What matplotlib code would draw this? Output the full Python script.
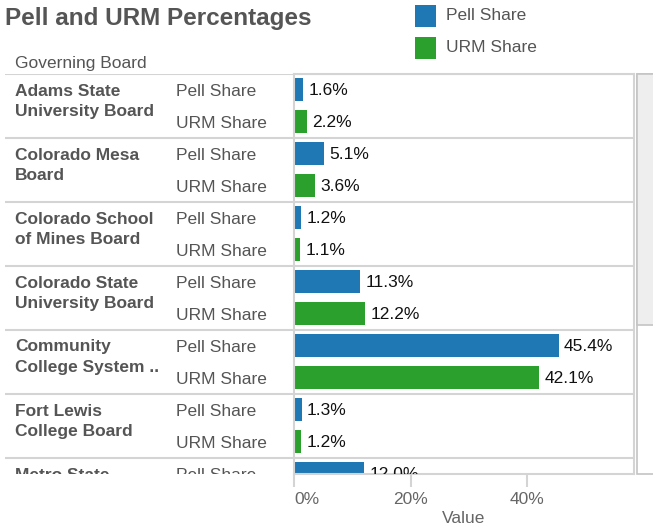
import matplotlib
matplotlib.use("Agg")
import matplotlib.pyplot as plt
from matplotlib.patches import Rectangle
from matplotlib.ticker import FuncFormatter

# ---------------- data ----------------
boards = [
    ("Adams State", "University Board"),
    ("Colorado Mesa", "Board"),
    ("Colorado School", "of Mines Board"),
    ("Colorado State", "University Board"),
    ("Community", "College System .."),
    ("Fort Lewis", "College Board"),
    ("Metro State", "University Board"),
]
measures = ["Pell Share", "URM Share"]
pell_share = [1.6, 5.1, 1.2, 11.3, 45.4, 1.3, 12.0]
urm_share = [2.2, 3.6, 1.1, 12.2, 42.1, 1.2]
x_ticks = [0, 20, 40]

# ---------------- style ----------------
W, H = 653, 528
FONT = "Liberation Sans"
FS = 12.5
GRAY_TXT = "#555555"
AXIS_TXT = "#666666"
LINE = "#d4d4d4"
BLUE = "#1f77b4"
GREEN = "#2ca02c"

plt.rcParams["font.family"] = [FONT, "DejaVu Sans"]

fig = plt.figure(figsize=(W / 100, H / 100), dpi=100)

def fx(px):
    return px / W

def fy(py):
    return 1 - py / H

pane_top, pane_bot = 73.5, 474.0
row_px = 32.0
n_rows_visible = (pane_bot - pane_top) / row_px
ax_left_px, ax_right_px = 294.0, 634.0

# bar axes
ax = fig.add_axes([fx(ax_left_px), fy(pane_bot), fx(ax_right_px - ax_left_px),
                   (pane_bot - pane_top) / H])
# label axes
lab = fig.add_axes([fx(5), fy(pane_bot), fx(ax_left_px - 5), (pane_bot - pane_top) / H])

xmax = (ax_right_px - ax_left_px) / 5.83
ax.set_xlim(0, xmax)
ax.set_ylim(n_rows_visible, 0)
lab.set_xlim(5, ax_left_px)
lab.set_ylim(n_rows_visible, 0)
lab.axis("off")

bar_h = 0.74
for i in range(len(boards)):
    series = [(pell_share, BLUE), (urm_share, GREEN)]
    for j, (vals, col) in enumerate(series):
        if i >= len(vals):
            continue
        yc = 2 * i + j + 0.5
        v = vals[i]
        ax.barh(yc, v, height=bar_h, color=col, left=0, zorder=2)
        ax.annotate(f"{v:.1f}%", xy=(v, yc), xytext=(3.8, -0.5), textcoords="offset points",
                    ha="left", va="center", fontsize=FS, color="#111111",
                    annotation_clip=False, clip_on=True, zorder=3)

# separators
for g in range(len(boards) + 1):
    y = 2 * g
    if y < n_rows_visible:
        ax.axhline(y, color=LINE, lw=1.5, zorder=1)
        lab.axhline(y, color=LINE, lw=1.5, zorder=1)

# labels
for i, (l1, l2) in enumerate(boards):
    top = 2 * i
    lab.text(15, top + 22 / row_px, l1, fontsize=FS, fontweight="bold", color=GRAY_TXT,
             va="baseline", ha="left", clip_on=True)
    lab.text(15, top + 42.5 / row_px, l2, fontsize=FS, fontweight="bold", color=GRAY_TXT,
             va="baseline", ha="left", clip_on=True)
    for j, m in enumerate(measures):
        lab.text(175.5, top + j + 0.5 + 1.5 / row_px, m, fontsize=FS, color=GRAY_TXT,
                 va="center", ha="left", clip_on=True)

# spines
for s in ax.spines.values():
    s.set_color(LINE)
    s.set_linewidth(1.5)

ax.set_yticks([])
ax.set_xticks(x_ticks)
ax.xaxis.set_major_formatter(FuncFormatter(lambda v, p: f"{v:.0f}%"))
ax.tick_params(axis="x", length=9, width=1.5, color=LINE, labelsize=FS,
               labelcolor=AXIS_TXT, pad=4)
ax.set_xlabel("Value", fontsize=FS, color=AXIS_TXT, labelpad=3)
fig.canvas.draw()
tl = ax.get_xticklabels()
tl[0].set_ha("left")

# scrollbar
track = Rectangle((fx(637), fy(pane_bot)), fx(653 - 637) + 0.01, (pane_bot - pane_top) / H,
                  transform=fig.transFigure, facecolor="white", edgecolor="#c4c4c4", lw=1.2)
fig.patches.append(track)
thumb = Rectangle((fx(637), fy(325)), fx(653 - 637) + 0.01, (325 - pane_top) / H,
                  transform=fig.transFigure, facecolor="#eeeeee", edgecolor="#c4c4c4", lw=1.2)
fig.patches.append(thumb)

# title, header, legend
fig.text(fx(5), fy(18), "Pell and URM Percentages", fontsize=17.5, fontweight="bold",
         color=GRAY_TXT, va="center", ha="left")
fig.text(fx(15), fy(63), "Governing Board", fontsize=FS, color=GRAY_TXT, va="center", ha="left")

for k, (name, col) in enumerate(zip(measures, [BLUE, GREEN])):
    yc = 16 + 32 * k
    fig.patches.append(Rectangle((fx(415), fy(yc + 11)), fx(21), 22 / H,
                                 transform=fig.transFigure, facecolor=col, edgecolor="none"))
    fig.text(fx(446), fy(yc), name, fontsize=FS, color=GRAY_TXT, va="center", ha="left")

fig.savefig("out.png", dpi=100)
